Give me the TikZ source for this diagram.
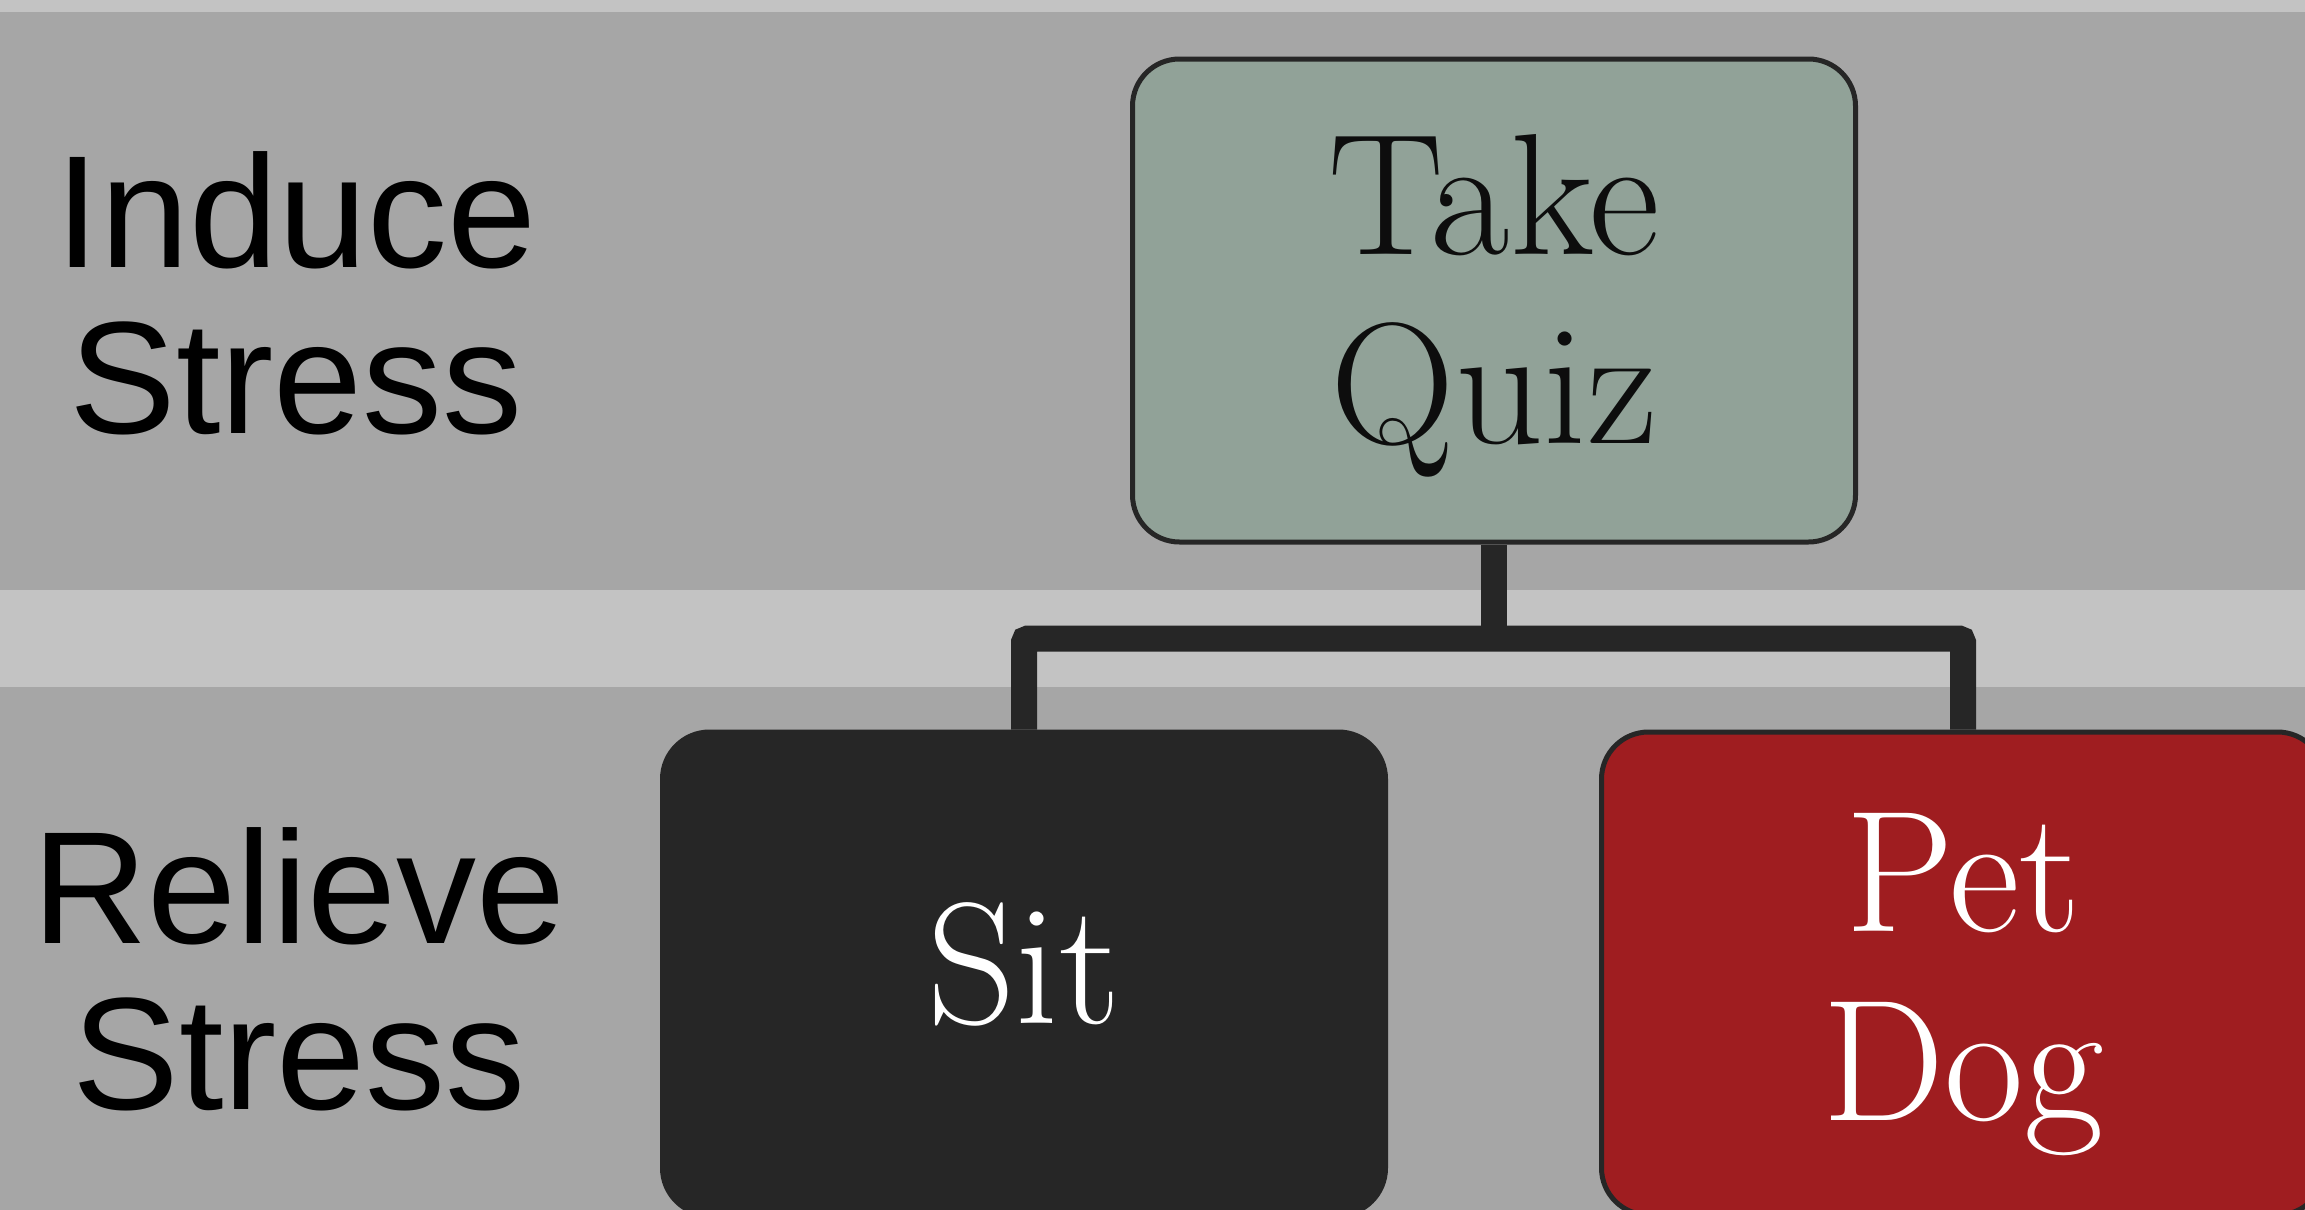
\documentclass[tikz,border=0pt]{standalone}
\usepackage{fontspec}
\newfontfamily\labelfont{Liberation Sans}
\definecolor{bgdark}{HTML}{A6A6A6}
\definecolor{bglight}{HTML}{C3C3C3}
\definecolor{boxgreen}{HTML}{91A298}
\definecolor{boxblack}{HTML}{262626}
\definecolor{boxred}{HTML}{9F1D20}
\definecolor{textblack}{HTML}{0D0D0D}
\tikzset{
  card/.style={rectangle, rounded corners=47pt, draw=boxblack, line width=5pt,
    minimum width=723pt, minimum height=483pt, inner sep=0pt},
  cardtext/.style={align=center, inner sep=0pt,
    font=\fontsize{173}{189}\selectfont},
  rowlabel/.style={align=center, text=black, inner sep=0pt,
    font=\labelfont\fontsize{160}{166}\selectfont},
  link/.style={draw=boxblack, line width=26pt, line cap=butt}
}
\begin{document}
\begin{tikzpicture}[x=1pt,y=-1pt]
\useasboundingbox (0,0) rectangle (2305,1210);
\clip (0,0) rectangle (2305,1210);
\fill[bgdark] (0,0) rectangle (2305,1210);
\fill[bglight] (0,0) rectangle (2305,12);
\fill[bglight] (0,590) rectangle (2305,687);

\node[rowlabel] (induce) at (296,293) {Induce\\Stress};
\node[rowlabel] (relieve) at (299,969) {Relieve\\Stress};

\node[card, fill=boxgreen] (quiz) at (1494,300.5) {};
\node[card, fill=boxblack] (sit) at (1024,973.5) {};
\node[card, fill=boxred] (dog) at (1963,973.5) {};

\node[cardtext, text=textblack] (quiztext) at ([yshift=-5pt]quiz.center) {Take\\Quiz};
\node[cardtext, text=white] (sittext) at ([yshift=9pt]sit.center) {Sit};
\node[cardtext, text=white] (dogtext) at ([yshift=-11pt]dog.center) {Pet\\Dog};

\coordinate (bar) at (1494,638.5);
\draw[link] (quiz.south) -- (bar);
\draw[link, rounded corners=4pt] (sit.north) |- (bar) -| (dog.north);
\end{tikzpicture}
\end{document}
